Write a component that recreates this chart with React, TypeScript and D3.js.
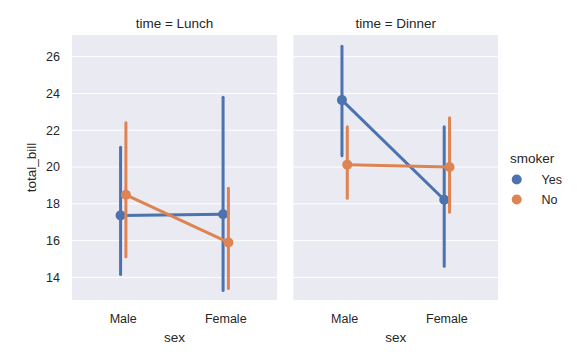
import { useEffect, useRef } from 'react';
import * as d3 from 'd3';

const times = ['Lunch', 'Dinner'];
const sexes = ['Male', 'Female'];
const smokers = ['Yes', 'No'];
const colors = ['#4c72b0', '#dd8452'];

// mean, ci low, ci high — per time, per smoker, per sex
const lunchYes = [[17.37, 14.16, 21.07], [17.43, 13.29, 23.79]];
const lunchNo = [[18.49, 15.12, 22.41], [15.90, 13.40, 18.84]];
const dinnerYes = [[23.64, 20.62, 26.57], [18.22, 14.61, 22.19]];
const dinnerNo = [[20.13, 18.30, 22.19], [20.00, 17.54, 22.68]];

const yTicks = [14, 16, 18, 20, 22, 24, 26];

const font = 'Liberation Sans, Arial, sans-serif';
const ink = '#262626';

export default function App() {
  const ref = useRef<HTMLDivElement>(null);
  useEffect(() => {
    const width = 577;
    const height = 360;
    const top = 35;
    const bottom = 300;
    const panels = [
      { left: 72, right: 277, data: [lunchYes, lunchNo] },
      { left: 293.5, right: 498, data: [dinnerYes, dinnerNo] },
    ];

    const y = d3.scaleLinear().domain([12.77, 27.18]).range([bottom, top]);

    const svg = d3.create('svg')
      .attr('width', width)
      .attr('height', height)
      .attr('viewBox', [0, 0, width, height])
      .style('display', 'block')
      .style('font-family', font);

    panels.forEach((p, pi) => {
      const x = d3.scaleLinear().domain([-0.5, 1.5]).range([p.left, p.right]);
      const g = svg.append('g');

      g.append('rect')
        .attr('x', p.left)
        .attr('y', top)
        .attr('width', p.right - p.left)
        .attr('height', bottom - top)
        .attr('fill', '#eaeaf2');

      g.selectAll('line.grid')
        .data(yTicks)
        .join('line')
        .attr('x1', p.left)
        .attr('x2', p.right)
        .attr('y1', (d) => y(d))
        .attr('y2', (d) => y(d))
        .attr('stroke', '#fff')
        .attr('stroke-width', 1);

      g.append('text')
        .attr('x', (p.left + p.right) / 2)
        .attr('y', 28)
        .attr('text-anchor', 'middle')
        .attr('font-size', 13.5)
        .attr('fill', ink)
        .text(`time = ${times[pi]}`);

      g.selectAll('text.xt')
        .data(sexes)
        .join('text')
        .attr('x', (_, i) => x(i))
        .attr('y', 322.5)
        .attr('text-anchor', 'middle')
        .attr('font-size', 12.5)
        .attr('fill', ink)
        .text((d) => d);

      g.append('text')
        .attr('x', (p.left + p.right) / 2)
        .attr('y', 341.5)
        .attr('text-anchor', 'middle')
        .attr('font-size', 13.5)
        .attr('fill', ink)
        .text('sex');

      const offsets = [-0.026, 0.026];
      p.data.forEach((series, si) => {
        const c = colors[si];
        const sg = g.append('g');
        sg.selectAll('line.ci')
          .data(series)
          .join('line')
          .attr('x1', (_, i) => x(i + offsets[si]))
          .attr('x2', (_, i) => x(i + offsets[si]))
          .attr('y1', (d) => y(d[1]))
          .attr('y2', (d) => y(d[2]))
          .attr('stroke', c)
          .attr('stroke-width', 3)
          .attr('stroke-linecap', 'round');
        const line = d3.line<number[]>()
          .x((_, i) => x(i + offsets[si]))
          .y((d) => y(d[0]));
        sg.append('path')
          .attr('d', line(series))
          .attr('fill', 'none')
          .attr('stroke', c)
          .attr('stroke-width', 3);
        sg.selectAll('circle')
          .data(series)
          .join('circle')
          .attr('cx', (_, i) => x(i + offsets[si]))
          .attr('cy', (d) => y(d[0]))
          .attr('r', 5)
          .attr('fill', c);
      });
    });

    // y axis labels
    svg.append('g')
      .selectAll('text')
      .data(yTicks)
      .join('text')
      .attr('x', 60)
      .attr('y', (d) => y(d))
      .attr('dy', '0.35em')
      .attr('text-anchor', 'end')
      .attr('font-size', 12.5)
      .attr('fill', ink)
      .text((d) => d);

    svg.append('text')
      .attr('transform', `translate(36,${(top + bottom) / 2}) rotate(-90)`)
      .attr('text-anchor', 'middle')
      .attr('font-size', 13.5)
      .attr('fill', ink)
      .text('total_bill');

    // legend
    const lg = svg.append('g');
    lg.append('text')
      .attr('x', 510)
      .attr('y', 162.5)
      .attr('font-size', 13.5)
      .attr('fill', ink)
      .text('smoker');
    smokers.forEach((s, i) => {
      lg.append('circle')
        .attr('cx', 516.7)
        .attr('cy', 179.5 + i * 20)
        .attr('r', 5)
        .attr('fill', colors[i]);
      lg.append('text')
        .attr('x', 541.5)
        .attr('y', 179.5 + i * 20)
        .attr('dy', '0.35em')
        .attr('font-size', 12.5)
        .attr('fill', ink)
        .text(s);
    });

    const node = svg.node()!;
    ref.current?.append(node);
    return () => {
      node.remove();
    };
  });
  return <div ref={ref} style={{ margin: -8 }} />;
}
